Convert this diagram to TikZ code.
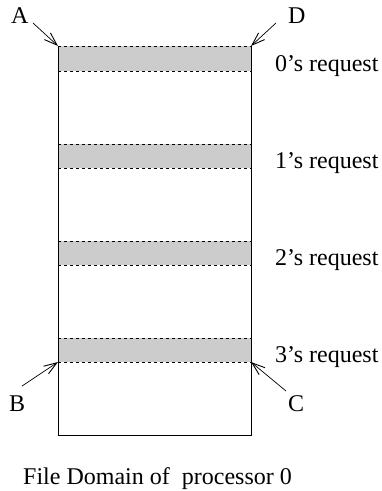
\documentclass[tikz,border=0pt]{standalone}
\usepackage{fontspec}
\setmainfont{Liberation Serif}
\usetikzlibrary{arrows.meta}
\begin{document}
\begin{tikzpicture}[x=1pt,y=-1pt,
  lbl/.style={font=\fontsize{24}{28}\selectfont, inner sep=0pt, anchor=base west},
  bandedge/.style={dash pattern=on 3pt off 3pt, line width=0.8pt},
  edge/.style={line width=0.8pt},
  arr/.style={line width=0.7pt, -{Straight Barb[length=13pt,width=9pt,line width=0.9pt]}}]
\useasboundingbox (0,0) rectangle (382,491);
% bands
\foreach \t/\b in {46/71,144/168,241/265,338/362}{
  \fill[black!20] (58,\t) rectangle (251,\b);
  \draw[bandedge] (58,\t) -- (251,\t);
  \draw[bandedge] (58,\b) -- (251,\b);
}
% rectangle outline
\coordinate (cA) at (58,46);
\coordinate (cD) at (251,46);
\coordinate (cB) at (58,362);
\coordinate (cC) at (251,362);
\coordinate (bl) at (58,435);
\coordinate (br) at (251,435);
\draw[edge] (cA) -- (bl) -- (br) -- (cD);
% labels
\node[lbl] (l0) at (275,71) {0’s request};
\node[lbl] (l1) at (275,168) {1’s request};
\node[lbl] (l2) at (275,265) {2’s request};
\node[lbl] (l3) at (275,362) {3’s request};
\node[lbl] (A) at (11,23) {A};
\node[lbl] (D) at (288,23) {D};
\node[lbl] (B) at (9,411) {B};
\node[lbl] (C) at (288,411) {C};
\node[lbl] (cap) at (23,484) {File Domain of\ \ processor 0};
% arrow tails
\coordinate (tA) at (33,23);
\coordinate (tD) at (276,23);
\coordinate (tB) at (22,386);
\coordinate (tC) at (286,391);
\draw[arr] (tA) -- (cA);
\draw[arr] (tD) -- (cD);
\draw[arr] (tB) -- (cB);
\draw[arr] (tC) -- (cC);
\end{tikzpicture}
\end{document}
